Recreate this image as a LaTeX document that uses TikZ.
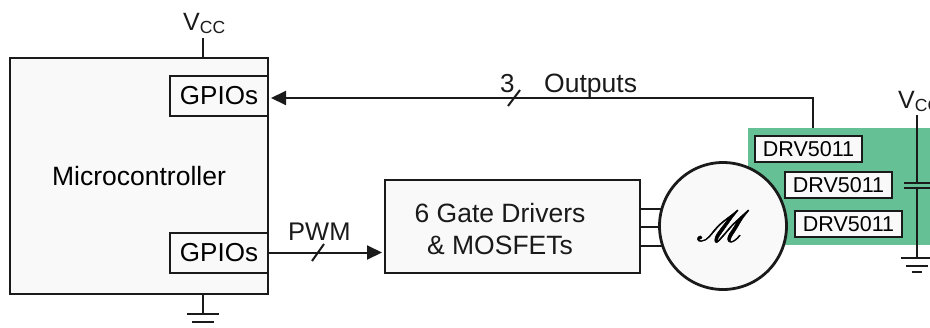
\documentclass[tikz,border=0pt]{standalone}
\usepackage{fontspec}
\usepackage{mathrsfs}
\setmainfont{Liberation Sans}
\usetikzlibrary{arrows.meta}
\definecolor{inkline}{HTML}{1A1A1A}
\definecolor{boxfill}{HTML}{F9F9F9}
\definecolor{pcbgreen}{HTML}{66C095}
\begin{document}
\begin{tikzpicture}[
    x=1pt, y=-1pt,
    block/.style={rectangle, draw=inkline, fill=boxfill, line width=2.8pt, inner sep=0pt, outer sep=0pt, align=center, font=\fontsize{26.5}{32}\selectfont},
    gpio/.style={block, line width=2pt, minimum width=98pt, minimum height=40pt, font=\fontsize{26}{32}\selectfont},
    hall/.style={block, line width=2.3pt, minimum width=107pt, minimum height=26pt, font=\fontsize{21.5}{25}\selectfont},
    label/.style={inner sep=0pt, anchor=base west, text=inkline, font=\fontsize{26}{30}\selectfont},
    wire/.style={draw=inkline, line width=2pt},
    arrow/.style={wire, -{Triangle[length=15pt,width=14pt]}, shorten >=3pt},
    gnd/.pic={
        \draw[wire] (-16,0) -- (16,0);
        \draw[wire] (-11,8) -- (11,8);
    }
  ]
    \useasboundingbox (0,0) rectangle (930,327);

    % Microcontroller
    \node[block, minimum width=258pt, minimum height=236pt] (mcu) at (139,176) {Microcontroller};
    \node[gpio] (gpiotop) at (219,96) {GPIOs};
    \node[gpio] (gpiobot) at (219,252.5) {GPIOs};
    \coordinate (mcuvcc) at (203,38);
    \coordinate (mcugnd) at (203,314);
    \draw[wire] (mcuvcc) -- (mcuvcc |- mcu.north);
    \draw[wire] (mcugnd |- mcu.south) -- (mcugnd);
    \pic at (mcugnd) {gnd};
    \node[label, font=\fontsize{25}{30}\selectfont] (vccleft) at (183,30) {V\textsubscript{CC}};

    % Hall sensors board
    \node[rectangle, fill=pcbgreen, minimum width=182pt, minimum height=117pt, inner sep=0pt, outer sep=0pt] (pcb) at (839,186.5) {};
    \node[hall] (halla) at (808.5,149) {DRV5011};
    \node[hall] (hallb) at (838.5,185) {DRV5011};
    \node[hall] (hallc) at (848.5,224) {DRV5011};

    % Capacitor on the board
    \coordinate (capvcc) at (917,115);
    \coordinate (captop) at (917,183);
    \coordinate (capbot) at (917,188);
    \coordinate (capgnd) at (917,258);
    \draw[wire] (capvcc) -- (captop);
    \draw[wire] (capbot) -- (capgnd);
    \draw[wire] (904,183) -- (930,183);
    \draw[wire] (904,188) -- (930,188);
    \pic at (capgnd) {gnd};
    \draw[wire] (912,272) -- (922,272);
    \node[label, font=\fontsize{25}{30}\selectfont] (vccright) at (898,108) {V\textsubscript{CC}};

    % Driver stage and motor
    \node[block, minimum width=255pt, minimum height=93pt] (driver) at (512.5,226.5) {};
    \node[align=center, inner sep=0pt, text=inkline, font=\fontsize{26.5}{32}\selectfont] (drivertext) at (500,229) {6 Gate Drivers\\\& MOSFETs};
    \coordinate (motorc) at (723,226);
    \foreach \phase in {-18,0,19} {
      \draw[wire] ([yshift=-\phase pt]driver.east) -- ([yshift=-\phase pt]driver.east -| motorc);
    }
    \node[circle, draw=inkline, fill=boxfill, line width=2.8pt, minimum size=127pt, inner sep=0pt, outer sep=0pt, font=\fontsize{25}{30}\selectfont] (motor) at (motorc) {\scalebox{1.75}{\special{pdf:code 2 Tr 0.25 w}$\mathscr{M}$\special{pdf:code 0 Tr}}};

    % Signals
    \coordinate (hallout) at (813,128);
    \draw[arrow] (hallout) |- (gpiotop.east |- 0,98);
    \coordinate (outslash) at (514,98);
    \draw[wire] ([shift={(-6,8)}]outslash) -- ([shift={(6,-8)}]outslash);
    \node[label] (outnum) at (500,92) {3};
    \node[label, font=\fontsize{26.5}{30}\selectfont] (outtext) at (544,92) {Outputs};

    \draw[arrow] (gpiobot.east) -- (driver.west |- gpiobot.east);
    \coordinate (pwmslash) at (318,252);
    \draw[wire] ([shift={(-6,9)}]pwmslash) -- ([shift={(6,-8)}]pwmslash);
    \node[label, font=\fontsize{25.5}{30}\selectfont] (pwmtext) at (288,240) {PWM};
  \end{tikzpicture}
\end{document}
